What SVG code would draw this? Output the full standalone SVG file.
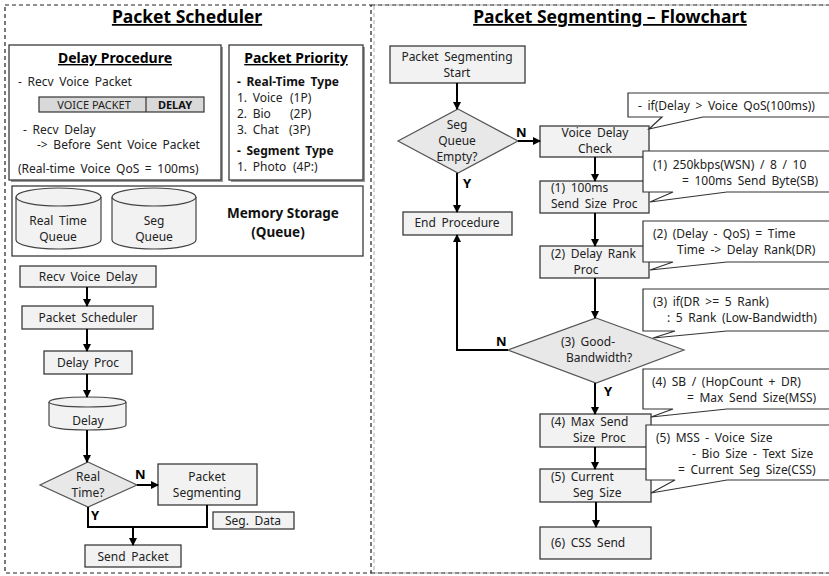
<svg xmlns="http://www.w3.org/2000/svg" width="829" height="576" viewBox="0 0 829 576">
<style>
text{font-family:"Noto Sans","Liberation Sans",sans-serif;font-size:12px;fill:#222;word-spacing:2.5px}
.t{font-size:17.5px;font-weight:bold;text-decoration:underline;fill:#000;word-spacing:0}
.st{font-size:14px;font-weight:bold;text-decoration:underline;fill:#000;word-spacing:0}
.b{font-weight:bold;fill:#111}
.lbl{font-size:13px;font-weight:bold;fill:#000}
.m{text-anchor:middle}
.box{fill:#f2f2f2;stroke:#3a3a3a;stroke-width:1.3}
.dia{fill:#e8e8e8;stroke:#555;stroke-width:1.2}
.pan{fill:#fff;stroke:#3a3a3a;stroke-width:1.3}
.sh{fill:#9a9a9a}
.co{fill:#fff;stroke:#333;stroke-width:1.2}
.cyl{fill:#f2f2f2;stroke:#444;stroke-width:1.2}
.ln{fill:none;stroke:#000;stroke-width:2}
.ar{fill:none;stroke:#000;stroke-width:2;marker-end:url(#ah)}
</style>
<defs>
<marker id="ah" markerWidth="8" markerHeight="8" refX="7" refY="4" orient="auto" markerUnits="userSpaceOnUse">
<path d="M0,0 L8,4 L0,8 z" fill="#000"/>
</marker>
</defs>
<rect width="829" height="576" fill="#fff"/>
<!-- panels -->
<rect x="374" y="5" width="460" height="568" fill="none" stroke="#aaa" stroke-width="1" stroke-dasharray="4,3"/>
<rect x="5" y="5" width="366" height="568" fill="none" stroke="#222" stroke-width="1.2" stroke-dasharray="4,3"/>
<line x1="371" y1="573" x2="829" y2="573" stroke="#222" stroke-width="1.2" stroke-dasharray="4,3"/>
<line x1="371" y1="5" x2="829" y2="5" stroke="#222" stroke-width="1.2" stroke-dasharray="4,3"/>
<text class="t m" x="187" y="23">Packet Scheduler</text>
<text class="t m" x="610" y="23">Packet Segmenting – Flowchart</text>

<g id="delay-procedure">
<rect class="sh" x="11" y="47" width="212" height="135"/>
<rect class="pan" x="9" y="45" width="212" height="135"/>
<text class="st m" x="115" y="63">Delay Procedure</text>
<text x="18" y="86">- Recv Voice Packet</text>
<rect x="39" y="97" width="165" height="15" fill="#d9d9d9" stroke="#333" stroke-width="1.2"/>
<line x1="146" y1="97" x2="146" y2="112" stroke="#333" stroke-width="1.2"/>
<text class="m" x="94" y="109" style="font-size:11px;word-spacing:0">VOICE PACKET</text>
<text class="m b" x="175" y="109" style="font-size:11px">DELAY</text>
<text x="23" y="134">- Recv Delay</text>
<text x="37" y="149">-&gt; Before Sent Voice Packet</text>
<text x="18" y="173">(Real-time Voice QoS = 100ms)</text>
</g>

<g id="packet-priority">
<rect class="sh" x="231" y="47" width="134" height="135"/>
<rect class="pan" x="229" y="45" width="134" height="135"/>
<text class="st m" x="296" y="63">Packet Priority</text>
<text class="b" x="237" y="86">- Real-Time Type</text>
<text x="237" y="102">1. Voice</text><text x="290" y="102">(1P)</text>
<text x="237" y="118">2. Bio</text><text x="290" y="118">(2P)</text>
<text x="237" y="134">3. Chat</text><text x="289" y="134">(3P)</text>
<text class="b" x="237" y="155">- Segment Type</text>
<text x="237" y="171">1. Photo</text><text x="293" y="171">(4P:)</text>
</g>

<g id="memory-storage">
<rect class="pan" x="12" y="186" width="351" height="70"/>
<g id="rt-queue">
<path class="cyl" d="M16,197 A42.5,9 0 0,1 101,197 V240 A42.5,9 0 0,1 16,240 Z"/>
<path fill="none" stroke="#444" stroke-width="1.2" d="M16,197 A42.5,9 0 0,0 101,197"/>
<text class="m" x="58" y="225">Real Time</text>
<text class="m" x="58" y="241">Queue</text>
</g>
<g id="seg-queue">
<path class="cyl" d="M112,197 A42,9 0 0,1 196,197 V240 A42,9 0 0,1 112,240 Z"/>
<path fill="none" stroke="#444" stroke-width="1.2" d="M112,197 A42,9 0 0,0 196,197"/>
<text class="m" x="154" y="225">Seg</text>
<text class="m" x="154" y="241">Queue</text>
</g>
<text class="b m" x="283" y="218" style="font-size:13.5px;word-spacing:0">Memory Storage</text>
<text class="b m" x="278" y="237" style="font-size:13.5px">(Queue)</text>
</g>

<g id="recv-voice-delay"><rect class="box" x="20" y="266" width="136" height="21"/><text class="m" x="88" y="281">Recv Voice Delay</text></g>
<g id="packet-scheduler"><rect class="box" x="22" y="306" width="131" height="23"/><text class="m" x="88" y="322">Packet Scheduler</text></g>
<g id="delay-proc"><rect class="box" x="44" y="351" width="88" height="23"/><text class="m" x="88" y="367">Delay Proc</text></g>
<g id="delay-db">
<path class="cyl" d="M49,402 A38.5,5 0 0,1 126,402 V425 A38.5,5 0 0,1 49,425 Z"/>
<path fill="none" stroke="#444" stroke-width="1.2" d="M49,402 A38.5,5 0 0,0 126,402"/>
<text class="m" x="88" y="425">Delay</text>
</g>
<g id="real-time"><polygon class="dia" points="88,462 137,485 88,507 40,485"/><text class="m" x="88" y="481">Real</text><text class="m" x="88" y="497">Time?</text></g>
<g id="packet-segmenting"><rect class="box" x="158" y="464" width="99" height="41"/><text class="m" x="207" y="481">Packet</text><text class="m" x="207" y="497">Segmenting</text></g>
<g id="seg-data"><rect class="box" x="213" y="512" width="81" height="17"/><text class="m" x="253" y="525">Seg. Data</text></g>
<g id="send-packet"><rect class="box" x="85" y="545" width="96" height="22"/><text class="m" x="133" y="561">Send Packet</text></g>

<!-- right flowchart nodes -->
<g id="seg-start"><rect class="box" x="390" y="46" width="135" height="37"/><text class="m" x="457" y="61">Packet Segmenting</text><text class="m" x="457" y="77">Start</text></g>
<g id="seg-queue-empty"><polygon class="dia" points="458,109 518,141 458,173 398,141"/><text class="m" x="457" y="129">Seg</text><text class="m" x="457" y="145">Queue</text><text class="m" x="457" y="161">Empty?</text></g>
<g id="voice-delay-check"><rect class="box" x="540" y="126" width="109" height="31"/><text class="m" x="595" y="137">Voice Delay</text><text class="m" x="595" y="153">Check</text></g>
<g id="end-procedure"><rect class="box" x="403" y="212" width="109" height="23"/><text class="m" x="457" y="227">End Procedure</text></g>
<g id="send-size-proc"><rect class="box" x="540" y="181" width="109" height="32"/><text x="551" y="192">(1) 100ms</text><text x="551" y="208">Send Size Proc</text></g>
<g id="delay-rank-proc"><rect class="box" x="540" y="246" width="109" height="32"/><text x="551" y="258">(2) Delay Rank</text><text class="m" x="586" y="274">Proc</text></g>
<g id="good-bandwidth"><polygon class="dia" points="596,318 684,350 596,383 508,350"/><text class="m" x="588" y="346">(3) Good-</text><text class="m" x="599" y="362">Bandwidth?</text></g>
<g id="max-send-size"><rect class="box" x="540" y="414" width="111" height="33"/><text x="551" y="426">(4) Max Send</text><text x="573" y="442">Size Proc</text></g>
<g id="current-seg-size"><rect class="box" x="540" y="469" width="111" height="33"/><text x="551" y="481">(5) Current</text><text x="573" y="497">Seg Size</text></g>
<g id="css-send"><rect class="box" x="540" y="527" width="111" height="32"/><text x="551" y="547">(6) CSS Send</text></g>

<!-- callouts -->
<g id="callout-0"><path class="co" d="M628,93 H835 V117 H703 L649,129 L662,117 H628 Z"/><text x="638" y="110">- if(Delay &gt; Voice QoS(100ms))</text></g>
<g id="callout-1"><path class="co" d="M643,151 H835 V192 H727 L650,202 L673,192 H643 Z"/><text x="653" y="169">(1) 250kbps(WSN) / 8 / 10</text><text x="682" y="185">= 100ms Send Byte(SB)</text></g>
<g id="callout-2"><path class="co" d="M643,221 H835 V262 H727 L650,270 L673,262 H643 Z"/><text x="653" y="238">(2) (Delay - QoS) = Time</text><text x="677" y="254">Time -&gt; Delay Rank(DR)</text></g>
<g id="callout-3"><path class="co" d="M643,289 H835 V331 H727 L653,338 L675,331 H643 Z"/><text x="653" y="306">(3) if(DR &gt;= 5 Rank)</text><text x="667" y="322">: 5 Rank (Low-Bandwidth)</text></g>
<g id="callout-4"><path class="co" d="M643,369 H835 V409 H727 L651,417 L673,409 H643 Z"/><text x="652" y="386">(4) SB / (HopCount + DR)</text><text x="687" y="402">= Max Send Size(MSS)</text></g>
<g id="callout-5"><path class="co" d="M646,425 H835 V480 H727 L651,493 L675,480 H646 Z"/><text x="656" y="442">(5) MSS - Voice Size</text><text x="692" y="458">- Bio Size - Text Size</text><text x="678" y="474">= Current Seg Size(CSS)</text></g>

<g id="connectors">
<line class="ar" x1="87" y1="287" x2="87" y2="306"/>
<line class="ar" x1="87" y1="329" x2="87" y2="351"/>
<line class="ar" x1="87" y1="374" x2="87" y2="397"/>
<line class="ar" x1="87" y1="430" x2="87" y2="462"/>
<line class="ar" x1="137" y1="485" x2="158" y2="485"/>
<polyline class="ln" points="88,507 88,527 207,527 207,505"/>
<line class="ar" x1="133" y1="527" x2="133" y2="545"/>
<line class="ar" x1="457" y1="83" x2="457" y2="109"/>
<line class="ar" x1="518" y1="141" x2="540" y2="141"/>
<line class="ar" x1="457" y1="173" x2="457" y2="212"/>
<line class="ar" x1="595" y1="157" x2="595" y2="181"/>
<line class="ar" x1="595" y1="213" x2="595" y2="246"/>
<line class="ar" x1="595" y1="278" x2="595" y2="318"/>
<polyline class="ar" points="508,350 457,350 457,235"/>
<line class="ar" x1="595" y1="383" x2="595" y2="414"/>
<line class="ar" x1="595" y1="447" x2="595" y2="469"/>
<line class="ar" x1="596" y1="502" x2="596" y2="527"/>
<text class="lbl" x="135" y="479">N</text>
<text class="lbl" x="91" y="520">Y</text>
<text class="lbl" x="516" y="137">N</text>
<text class="lbl" x="463" y="188">Y</text>
<text class="lbl" x="496" y="346">N</text>
<text class="lbl" x="604" y="396">Y</text>
</g>
</svg>
